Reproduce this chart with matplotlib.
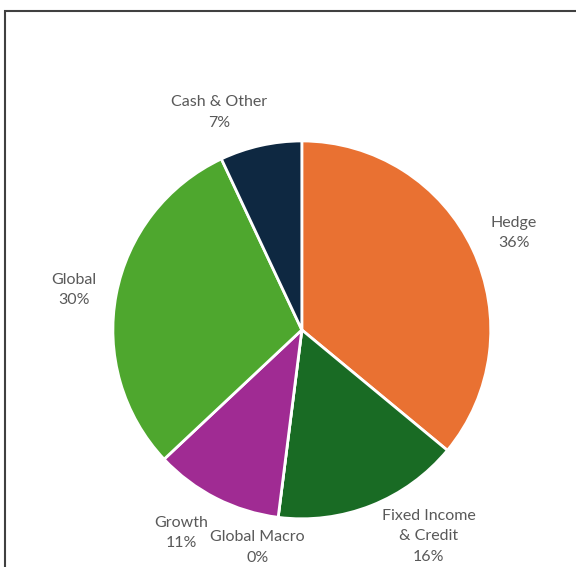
import matplotlib.pyplot as plt
from matplotlib.patches import Rectangle

plt.rcParams['font.family'] = ['Lato', 'DejaVu Sans']

labels = ['Hedge', 'Fixed Income\n& Credit', 'Global Macro', 'Growth', 'Global', 'Cash & Other']
values = [36, 16, 0, 11, 30, 7]
colors = ['#E97132', '#196B24', '#7F7F7F', '#A02B93', '#4EA72E', '#0E2841']

fig = plt.figure(figsize=(5.76, 5.67), dpi=100)
ax = fig.add_axes([0.196, 0.0847, 0.656, 0.667])

wedges, texts = ax.pie(values, colors=colors, startangle=90, counterclock=False,
                       wedgeprops=dict(edgecolor='white', linewidth=2),
                       labels=[f'{l}\n{v}%' for l, v in zip(labels, values)],
                       labeldistance=1.23,
                       textprops=dict(color='#595959', fontsize=11.5, ha='center', va='center'))
ax.set_xlim(-1, 1)
ax.set_ylim(-1, 1)
ax.set_aspect('equal')

# nudge a few labels the way the original layout spreads them
nudges = {0: (0.01, -0.01), 1: (0.22, 0.05), 2: (-0.08, 0.07), 3: (-0.08, 0.02),
          4: (0.0, -0.02), 5: (-0.17, -0.05)}
for i, (dx, dy) in nudges.items():
    x, y = texts[i].get_position()
    texts[i].set_position((x + dx, y + dy))
for t in texts:
    t.set_horizontalalignment('center')
    t.set_linespacing(1.6)

fig.patches.append(Rectangle((5 / 576, -0.1), 1.2, 1 - 11 / 567 + 0.1, transform=fig.transFigure,
                             fill=False, edgecolor='#404040', linewidth=1.5))

fig.savefig('out.png', dpi=100)
